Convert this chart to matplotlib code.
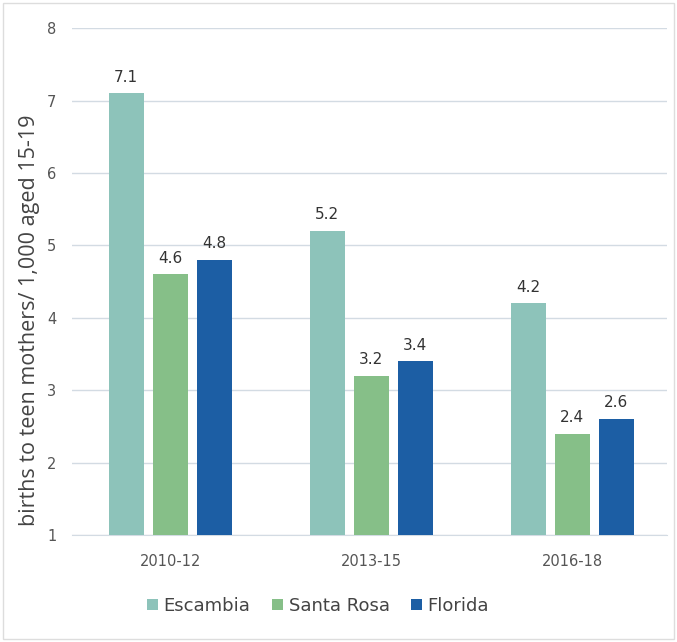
import matplotlib
matplotlib.use("Agg")
import matplotlib.pyplot as plt
import numpy as np

categories = ["2010-12", "2013-15", "2016-18"]
series_names = ["Escambia", "Santa Rosa", "Florida"]
escambia = [7.1, 5.2, 4.2]
santa_rosa = [4.6, 3.2, 2.4]
florida = [4.8, 3.4, 2.6]
colors = ["#8DC3BA", "#86BF88", "#1C5EA4"]

fig = plt.figure(figsize=(6.77, 6.42), dpi=100)
ax = fig.add_axes([0.106, 0.1667, 0.879, 0.7893])

x = np.arange(len(categories))
width = 0.174
step = 0.219
base = 1.0
for i, (vals, c, name) in enumerate(zip([escambia, santa_rosa, florida], colors, series_names)):
    pos = x + (i - 1) * step
    heights = [v - base for v in vals]
    ax.bar(pos, heights, width, bottom=base, color=c, label=name, zorder=3)
    for p, v in zip(pos, vals):
        ax.text(p, v + 0.12, f"{v:.1f}", ha="center", va="bottom",
                fontsize=11, color="#333333")

ax.set_ylim(1, 8)
ax.set_xlim(-0.49, 2.47)
ax.set_yticks(range(1, 9))
ax.set_xticks(x)
ax.set_xticklabels(categories)
ax.yaxis.grid(True, color="#d3dbe3", linewidth=1.0, zorder=0)
ax.set_axisbelow(True)
for s in ax.spines.values():
    s.set_visible(False)
ax.spines["bottom"].set_visible(True)
ax.spines["bottom"].set_color("#d3dbe3")
ax.tick_params(axis="both", length=0, labelsize=10.5, colors="#555555")
ax.tick_params(axis="x", pad=14)
ax.tick_params(axis="y", pad=11)
ax.set_ylabel("births to teen mothers/ 1,000 aged 15-19", fontsize=15.5,
              color="#444444", family=["Open Sans", "DejaVu Sans"])
ax.yaxis.set_label_coords(-0.054, 0.424)

leg = fig.legend(loc="center", bbox_to_anchor=(0.47, 0.056), ncol=3, frameon=False,
                 prop={"size": 13}, handlelength=0.6, handleheight=0.6,
                 handletextpad=0.3, columnspacing=1.2)
for t in leg.get_texts():
    t.set_color("#444444")

fig.patches.append(plt.Rectangle((0.004, 0.004), 0.992, 0.992, transform=fig.transFigure,
                                 fill=False, edgecolor="#dddddd", linewidth=1))
fig.savefig("out.png", dpi=100)
